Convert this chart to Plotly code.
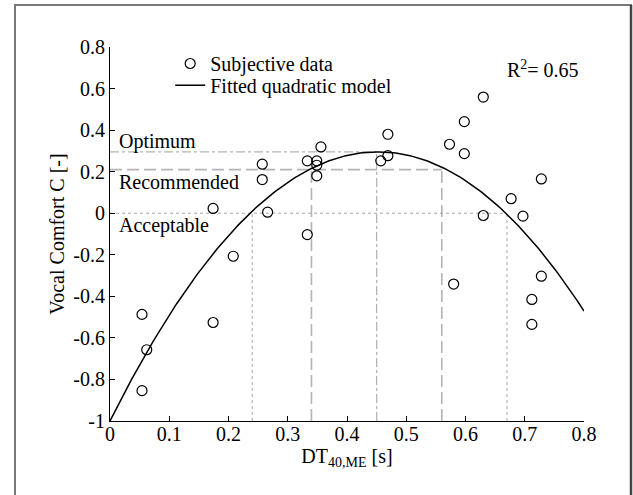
import numpy as np
import plotly.graph_objects as go

# ---- data ----
DT = [0.054, 0.054, 0.062, 0.174, 0.174, 0.208, 0.257, 0.257, 0.266, 0.333,
      0.333, 0.349, 0.349, 0.349, 0.356, 0.457, 0.469, 0.469, 0.573, 0.580,
      0.598, 0.598, 0.630, 0.630, 0.677, 0.697, 0.712, 0.712, 0.728, 0.728]
C = [-0.487, -0.854, -0.657, 0.023, -0.526, -0.207, 0.236, 0.162, 0.005, 0.252,
     -0.103, 0.252, 0.231, 0.180, 0.319, 0.252, 0.380, 0.277, 0.332, -0.341,
     0.441, 0.287, 0.559, -0.011, 0.070, -0.014, -0.415, -0.535, 0.165, -0.303]

# fitted quadratic model C = a + b*x + c*x^2
FIT_COEFFS = [-1.0, 5.728, -6.333]
FIT_RANGE = [0.0, 0.8]

# comfort levels
OPT_LEVEL, OPT_X = 0.295, [0.45]
REC_LEVEL, REC_X = 0.21, [0.34, 0.56]
ACC_LEVEL, ACC_X = 0.0, [0.24, 0.67]
LEVEL_LABELS = ["Optimum", "Recommended", "Acceptable"]
LABEL_Y = [0.346, 0.150, -0.058]

X_TICKS = [0, 0.1, 0.2, 0.3, 0.4, 0.5, 0.6, 0.7, 0.8]
X_TICKTEXT = ["0", "0.1", "0.2", "0.3", "0.4", "0.5", "0.6", "0.7", "0.8"]
Y_TICKS = [-1, -0.8, -0.6, -0.4, -0.2, 0, 0.2, 0.4, 0.6, 0.8]
Y_TICKTEXT = ["-1", "-0.8", "-0.6", "-0.4", "-0.2", "0", "0.2", "0.4", "0.6", "0.8"]

FONT = "Liberation Serif"
FS = 20
TXT = dict(family=FONT, size=FS, color="black")

xf = np.linspace(FIT_RANGE[0], FIT_RANGE[1], 200)
yf = FIT_COEFFS[0] + FIT_COEFFS[1] * xf + FIT_COEFFS[2] * xf ** 2

fig = go.Figure()
fig.add_trace(go.Scatter(
    x=DT, y=C, mode="markers", name="Subjective data", legend="legend",
    marker=dict(symbol="circle-open", size=10, color="black",
                line=dict(width=1.2, color="black")),
))
fig.add_trace(go.Scatter(
    x=xf, y=yf, mode="lines", name="Fitted quadratic model", legend="legend2",
    line=dict(color="black", width=1.5),
))

shapes = []
gray = "#b4b4b4"
# Optimum (dash-dot)
shapes.append(dict(type="line", xref="x", yref="y", x0=0, x1=OPT_X[0],
                   y0=OPT_LEVEL, y1=OPT_LEVEL,
                   line=dict(color=gray, width=1.3, dash="dashdot"), layer="below"))
shapes.append(dict(type="line", xref="x", yref="y", x0=OPT_X[0], x1=OPT_X[0],
                   y0=-1, y1=OPT_LEVEL,
                   line=dict(color=gray, width=1.3, dash="dashdot"), layer="below"))
# Recommended (dashed)
shapes.append(dict(type="line", xref="x", yref="y", x0=0, x1=REC_X[1],
                   y0=REC_LEVEL, y1=REC_LEVEL,
                   line=dict(color=gray, width=1.6, dash="12px,5px"), layer="below"))
for xv in REC_X:
    shapes.append(dict(type="line", xref="x", yref="y", x0=xv, x1=xv,
                       y0=-1, y1=REC_LEVEL,
                       line=dict(color=gray, width=1.6, dash="12px,5px"), layer="below"))
# Acceptable (dotted)
shapes.append(dict(type="line", xref="x", yref="y", x0=0, x1=ACC_X[1],
                   y0=ACC_LEVEL, y1=ACC_LEVEL,
                   line=dict(color="#a8a8a8", width=1, dash="dot"), layer="below"))
for xv in ACC_X:
    shapes.append(dict(type="line", xref="x", yref="y", x0=xv, x1=xv,
                       y0=-1, y1=ACC_LEVEL,
                       line=dict(color="#a8a8a8", width=1, dash="dot"), layer="below"))

# outer frame
shapes.append(dict(type="rect", xref="paper", yref="paper",
                   x0=-0.2004, x1=1.0992, y0=-0.25, y1=1.1123,
                   line=dict(color="#7a7a7a", width=2)))
shapes.append(dict(type="line", xref="paper", yref="paper",
                   x0=1.0992, x1=1.0992, y0=-0.25, y1=1.1123,
                   line=dict(color="#444444", width=2.5)))

annotations = []
for lab, ly in zip(LEVEL_LABELS, LABEL_Y):
    annotations.append(dict(x=0.011, y=ly, xref="x", yref="y", text=lab,
                            showarrow=False, xanchor="left", yanchor="middle",
                            font=TXT))
annotations.append(dict(x=0.9135, y=0.941, xref="paper", yref="paper",
                        text="R<sup>2</sup>= 0.65", showarrow=False,
                        xanchor="center", yanchor="middle", font=TXT))

leg_common = dict(xanchor="left", yanchor="top", bgcolor="rgba(0,0,0,0)",
                  borderwidth=0, font=TXT, itemwidth=30)

fig.update_layout(
    width=633, height=495,
    margin=dict(l=110, r=49, t=47, b=74),
    paper_bgcolor="white", plot_bgcolor="white",
    font=TXT,
    shapes=shapes, annotations=annotations,
    showlegend=True,
    legend=dict(x=0.127, y=1.008, **leg_common),
    legend2=dict(x=0.127, y=0.950, **leg_common),
    xaxis=dict(range=[0, 0.8], tickvals=X_TICKS, ticktext=X_TICKTEXT,
               tickfont=TXT, ticklabelstandoff=-5,
               showgrid=False, zeroline=False, showline=True,
               linecolor="black", linewidth=1.2, ticks="inside", ticklen=5,
               tickcolor="black", tickwidth=1, mirror=False,
               title=dict(text="DT<sub>40,ME</sub> [s]", standoff=2, font=TXT)),
    yaxis=dict(range=[-1, 0.8], tickvals=Y_TICKS, ticktext=Y_TICKTEXT,
               tickfont=TXT,
               showgrid=False, zeroline=False, showline=True,
               linecolor="black", linewidth=1.2, ticks="inside", ticklen=5,
               tickcolor="black", tickwidth=1, mirror=False,
               title=dict(text="Vocal Comfort C [-]", standoff=3, font=TXT)),
)

fig.write_html("out.html")
